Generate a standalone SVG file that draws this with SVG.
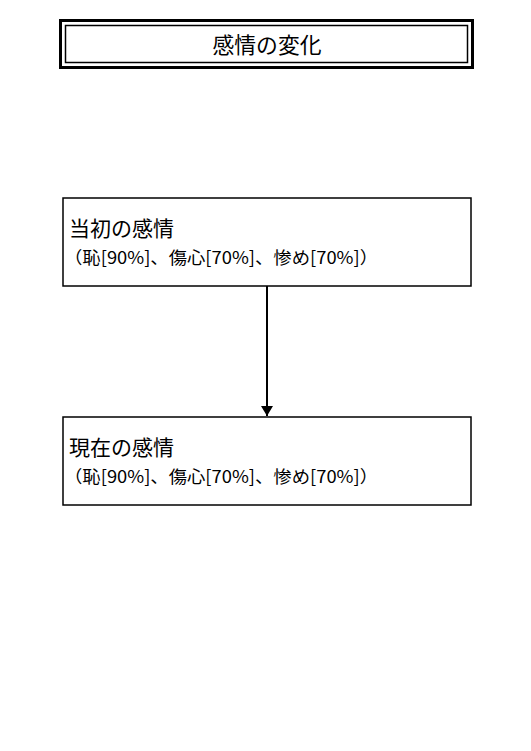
<svg xmlns="http://www.w3.org/2000/svg" width="531" height="751" viewBox="0 0 531 751">
<defs>
<style>
.box{fill:#fff;stroke:#000;stroke-width:1.5}
.t{font-family:"Noto Sans CJK JP","Noto Sans CJK SC",sans-serif;fill:#000}
.h{font-size:21px}
.s{font-size:17px}
</style>
<marker id="arr" markerWidth="10" markerHeight="12" refX="10" refY="6" orient="auto" markerUnits="userSpaceOnUse">
<path d="M0,0 L10,6 L0,12 Z" fill="#000"/>
</marker>
</defs>
<rect width="531" height="751" fill="#fff"/>
<g id="title">
<rect x="60.5" y="20.5" width="412" height="47" fill="#fff" stroke="#000" stroke-width="3"/>
<rect x="65.5" y="25.5" width="402" height="37" fill="none" stroke="#000" stroke-width="1.5"/>
<text class="t" x="267" y="53" text-anchor="middle" font-size="22" textLength="109" lengthAdjust="spacingAndGlyphs">感情の変化</text>
</g>
<g id="initial">
<rect class="box" x="63" y="198" width="408" height="88"/>
<text class="t h" x="69" y="236">当初の感情</text>
<text class="t s" x="64" y="264" textLength="314" lengthAdjust="spacingAndGlyphs">（恥[90%]、傷心[70%]、惨め[70%]）</text>
</g>
<g id="current">
<rect class="box" x="63" y="417" width="408" height="88"/>
<text class="t h" x="69" y="455">現在の感情</text>
<text class="t s" x="64" y="483" textLength="314" lengthAdjust="spacingAndGlyphs">（恥[90%]、傷心[70%]、惨め[70%]）</text>
</g>
<g id="connectors">
<line x1="267" y1="286" x2="267" y2="416" stroke="#000" stroke-width="2" marker-end="url(#arr)"/>
</g>
</svg>
